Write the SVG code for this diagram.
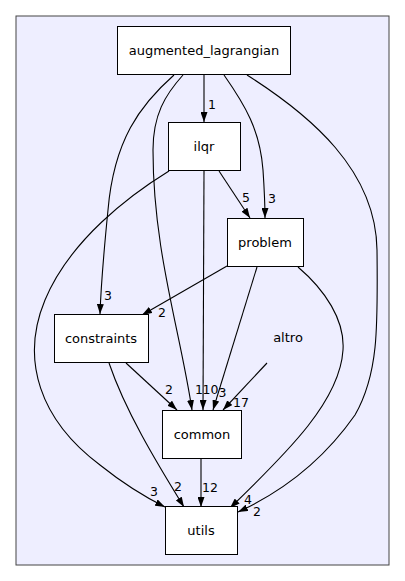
<svg xmlns="http://www.w3.org/2000/svg" width="405" height="581" viewBox="0 0 405 581">
<defs>
<marker id="a" markerWidth="10" markerHeight="7" refX="10" refY="3.5" orient="auto" markerUnits="userSpaceOnUse"><path d="M0,0 L10,3.5 L0,7 z" fill="#000"/></marker>
<style>
.n rect{fill:#fff;stroke:#000;stroke-width:1}
text{font-family:"DejaVu Sans",sans-serif;fill:#000}
.n text{font-size:13px;text-anchor:middle}
.l{font-size:12.5px}
#edges path{fill:none;stroke:#000;stroke-width:1.1;marker-end:url(#a)}
</style>
</defs>
<rect width="405" height="581" fill="#fff"/>
<rect x="16" y="16" width="373" height="549" fill="#eeeeff" stroke="#444" stroke-width="1"/>
<g id="edges">
<path d="M204,75 L204,122"/>
<path d="M174,75 C140,105 114,140 108,210 C104,250 101,285 100,314"/>
<path d="M183,75 C165,95 153,115 153,150 C153,250 180,330 192,410"/>
<path d="M224,75 C245,105 260,130 263,170 C264,185 265,200 265,218"/>
<path d="M247,75 C310,115 376,170 377,250 C378,330 378,375 355,415 C320,465 275,495 238,512"/>
<path d="M219,171 L250,218"/>
<path d="M204,171 L203,410"/>
<path d="M169,171 C130,195 70,240 45,300 C20,360 40,420 100,465 C125,485 145,497 165,507"/>
<path d="M227,266 L142,315"/>
<path d="M257,267 L213,410"/>
<path d="M298,267 C325,290 345,320 343,350 C340,400 290,450 230,508"/>
<path d="M126,363 L177,410"/>
<path d="M109,363 C125,410 155,460 184,507"/>
<path d="M267,363 L223,410"/>
<path d="M201,459 L201,507"/>
</g>
<g id="labels">
<text class="l" x="208" y="109">1</text>
<text class="l" x="104" y="300">3</text>
<text class="l" x="195" y="394">1</text>
<text class="l" x="268" y="203">3</text>
<text class="l" x="253" y="516">2</text>
<text class="l" x="242" y="202">5</text>
<text class="l" x="202.5" y="394">10</text>
<text class="l" x="218.5" y="397">3</text>
<text class="l" x="150" y="496">3</text>
<text class="l" x="158" y="317">2</text>
<text class="l" x="244" y="504">4</text>
<text class="l" x="165" y="394">2</text>
<text class="l" x="174" y="491">2</text>
<text class="l" x="233" y="407">17</text>
<text class="l" x="202" y="492">12</text>
</g>
<g id="augmented_lagrangian" class="n"><rect x="117.5" y="26.5" width="173" height="48"/><text x="204" y="55">augmented_lagrangian</text></g>
<g id="ilqr" class="n"><rect x="168.5" y="122.5" width="72" height="48"/><text x="204" y="151">ilqr</text></g>
<g id="problem" class="n"><rect x="227.5" y="218.5" width="76" height="48"/><text x="265" y="247">problem</text></g>
<g id="constraints" class="n"><rect x="54.5" y="314.5" width="94" height="48"/><text x="101" y="343">constraints</text></g>
<g id="altro" class="n"><text x="288" y="342">altro</text></g>
<g id="common" class="n"><rect x="162.5" y="410.5" width="79" height="48"/><text x="202" y="439">common</text></g>
<g id="utils" class="n"><rect x="165.5" y="506.5" width="72" height="48"/><text x="201" y="535">utils</text></g>
</svg>
